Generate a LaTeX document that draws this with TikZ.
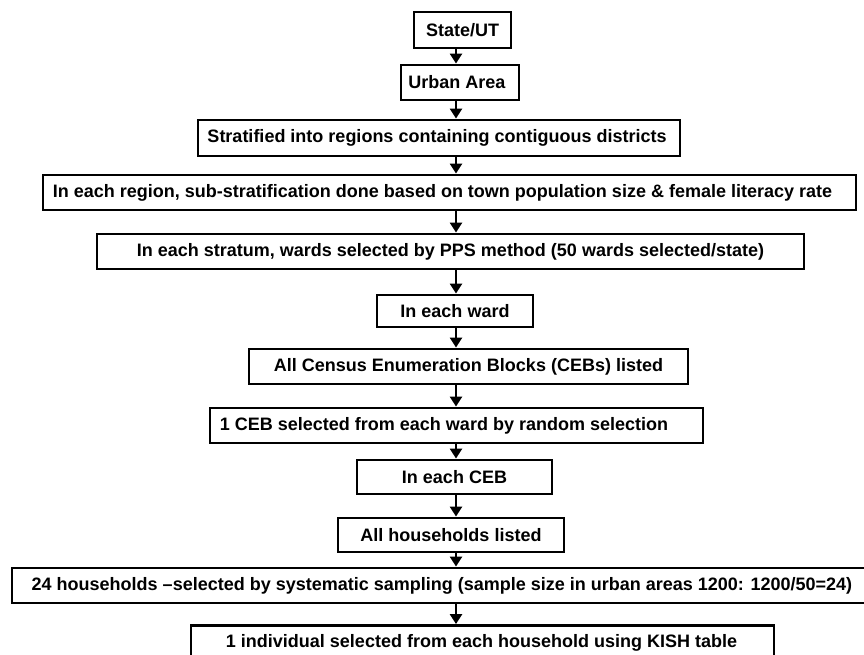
\documentclass[tikz,border=0pt]{standalone}
\usepackage{fontspec}
\setmainfont{Liberation Sans}
\usetikzlibrary{arrows.meta}
\begin{document}
\begin{tikzpicture}[x=1pt,y=-1pt,
  bx/.style={draw=black, line width=2.9pt, inner sep=0pt, fill=white,
    font=\fontsize{18}{21}\selectfont\bfseries},
  arr/.style={line width=2.6pt, -{Triangle[length=10pt,width=12pt]}}]
\useasboundingbox (0,0) rectangle (864,654);
\coordinate (ax) at (456,0);
\node[bx, minimum width=97pt,  minimum height=36pt] (s1)  at (462.5,30)   {State/UT};
\node[bx, minimum width=118pt, minimum height=35pt] (s2)  at (460,82.5)   {\hspace*{-6pt}Urban Area};
\node[bx, minimum width=482pt, minimum height=36pt] (s3)  at (439,138)    {\hspace*{-4pt}Stratified into regions containing contiguous districts};
\node[bx, minimum width=813pt, minimum height=35pt] (s4)  at (449.5,192.5){\hspace*{-14pt}In each region, sub-stratification done based on town population size \& female literacy rate};
\node[bx, minimum width=707pt, minimum height=35pt] (s5)  at (450.5,251.5){In each stratum, wards selected by PPS method (50 wards selected/state)};
\node[bx, minimum width=156pt, minimum height=32pt] (s6)  at (455,311)    {In each ward};
\node[bx, minimum width=439pt, minimum height=35pt] (s7)  at (468.5,366.5){All Census Enumeration Blocks (CEBs) listed};
\node[bx, minimum width=493pt, minimum height=35pt] (s8)  at (456.5,425.5){\hspace*{-25pt}1 CEB selected from each ward by random selection};
\node[bx, minimum width=195pt, minimum height=34pt] (s9)  at (454.5,477)  {In each CEB};
\node[bx, minimum width=226pt, minimum height=34pt] (s10) at (451,535)    {All households listed};
\node[bx, minimum width=855pt, minimum height=35pt] (s11) at (439.5,585.5){\hspace*{5pt}24 households –selected by systematic sampling (sample size in urban areas 1200: 1200/50=24)};
\node[bx, minimum width=583pt, minimum height=35pt] (s12) at (482.5,643)  {\hspace*{-2pt}1 individual selected from each household using KISH table};
\foreach \a/\b in {s1/s2,s2/s3,s3/s4,s4/s5,s5/s6,s6/s7,s7/s8,s8/s9,s9/s10,s10/s11,s11/s12}
  \draw[arr] (\a.south -| ax) -- (\b.north -| ax);
\end{tikzpicture}
\end{document}
